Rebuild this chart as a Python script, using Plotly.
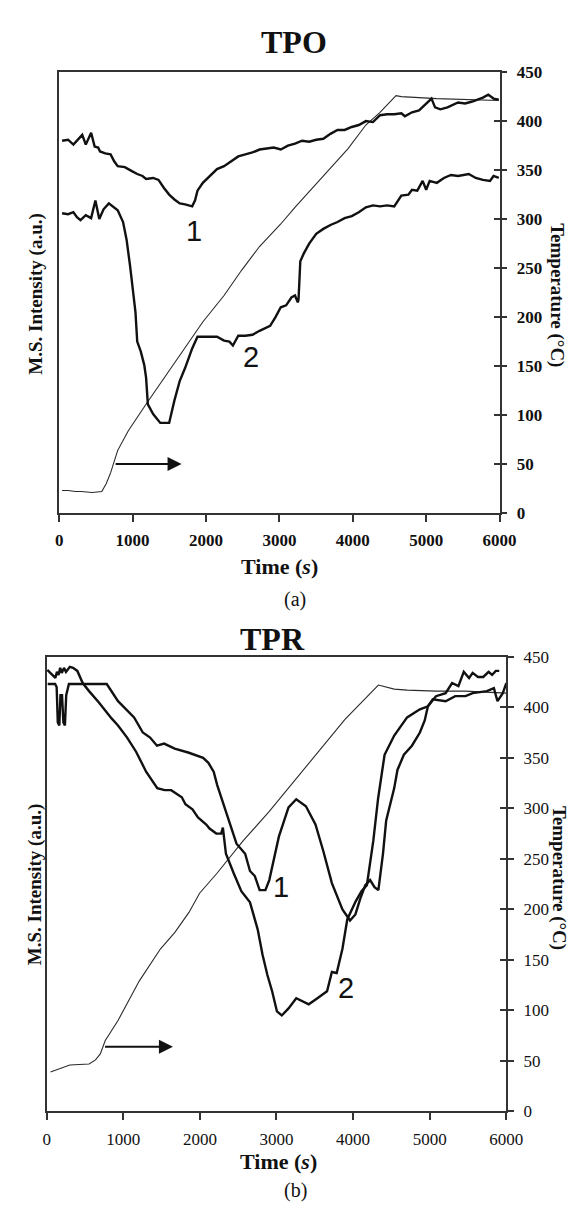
import plotly.graph_objects as go

# ---------------- Panel (a) TPO ----------------
a_temp_t = [39, 121, 220, 300, 450, 580, 640, 700, 797, 942, 1183, 1521, 1956, 2246, 2487, 2729, 3019, 3212, 3454, 3695, 3936, 4178, 4371, 4589, 4661, 5144, 5627, 5989]
a_temp_v = [23, 23, 22, 22, 21, 22, 30, 41, 64, 84, 111, 148, 195, 222, 248, 272, 295, 312, 332, 352, 372, 396, 409, 426, 425, 423, 422, 421]

a_c1_t = [39, 121, 193, 266, 314, 362, 435, 483, 531, 556, 628, 700, 749, 797, 894, 990, 1063, 1135, 1184, 1280, 1353, 1425, 1498, 1570, 1643, 1715, 1763, 1812, 1850, 1884, 1957, 2053, 2150, 2246, 2343, 2440, 2536, 2633, 2730, 2826, 2923, 3019, 3116, 3213, 3309, 3406, 3502, 3599, 3696, 3792, 3889, 3986, 4082, 4179, 4275, 4372, 4469, 4565, 4662, 4710, 4807, 4903, 4976, 5073, 5121, 5193, 5290, 5435, 5531, 5628, 5773, 5846, 5918, 5990]
a_c1_v = [380, 381, 376, 382, 386, 376, 388, 374, 373, 369, 367, 366, 359, 354, 353, 349, 346, 344, 341, 342, 340, 332, 325, 320, 316, 315, 314, 313, 319, 329, 337, 344, 351, 354, 359, 364, 366, 368, 371, 372, 373, 371, 375, 377, 380, 379, 381, 382, 387, 391, 391, 394, 396, 400, 399, 406, 407, 407, 408, 405, 409, 411, 416, 423, 414, 412, 414, 419, 418, 420, 424, 427, 423, 422]

a_c2_t = [39, 121, 193, 242, 290, 362, 435, 493, 546, 604, 676, 749, 797, 870, 918, 966, 1015, 1039, 1063, 1111, 1159, 1184, 1208, 1280, 1377, 1498, 1570, 1643, 1715, 1812, 1884, 2005, 2150, 2246, 2319, 2367, 2440, 2536, 2633, 2730, 2826, 2874, 2947, 3019, 3092, 3164, 3213, 3251, 3261, 3285, 3333, 3406, 3502, 3599, 3696, 3792, 3889, 3986, 4082, 4179, 4275, 4372, 4469, 4565, 4662, 4758, 4807, 4879, 4952, 5000, 5048, 5145, 5242, 5338, 5435, 5580, 5676, 5773, 5870, 5918, 5990]
a_c2_v = [306, 305, 307, 302, 299, 304, 301, 319, 300, 310, 316, 312, 309, 297, 279, 252, 218, 205, 175, 165, 151, 138, 111, 101, 92, 92, 115, 135, 148, 168, 180, 180, 180, 176, 175, 171, 181, 181, 182, 186, 189, 191, 200, 210, 212, 220, 222, 215, 218, 257, 265, 275, 285, 290, 294, 297, 301, 303, 307, 312, 314, 313, 314, 313, 324, 325, 330, 329, 339, 330, 339, 337, 342, 345, 344, 346, 342, 340, 339, 344, 342]

# ---------------- Panel (b) TPR ----------------
b_temp_t = [50, 302, 553, 637, 700, 763, 931, 1208, 1486, 1671, 1857, 1996, 2226, 2566, 2906, 3409, 3894, 4330, 4537, 4705, 5082, 5459, 6000]
b_temp_v = [39, 46, 47, 51, 57, 70, 90, 129, 161, 177, 197, 216, 236, 268, 297, 343, 388, 422, 418, 417, 416, 416, 414]

b_c1_t = [13, 110, 130, 145, 165, 180, 200, 218, 238, 255, 290, 784, 931, 1141, 1255, 1350, 1440, 1533, 1671, 1857, 2042, 2111, 2181, 2226, 2352, 2478, 2591, 2654, 2717, 2780, 2855, 2906, 3031, 3157, 3258, 3384, 3509, 3610, 3723, 3861, 3960, 4030, 4100, 4160, 4222, 4280, 4330, 4390, 4432, 4537, 4579, 4663, 4768, 4872, 4935, 4977, 5040, 5208, 5333, 5468, 5561, 5746, 5838, 5885, 5954, 6000]
b_c1_v = [423, 423, 420, 385, 382, 412, 412, 385, 382, 412, 423, 423, 406, 390, 375, 370, 362, 364, 359, 355, 350, 345, 336, 323, 294, 265, 255, 238, 233, 219, 219, 229, 272, 301, 309, 302, 284, 258, 226, 200, 189, 195, 212, 224, 229, 222, 219, 255, 288, 320, 338, 353, 362, 375, 387, 401, 408, 406, 411, 411, 414, 416, 419, 406, 414, 424]

b_c2_t = [8, 50, 113, 134, 155, 176, 197, 226, 252, 302, 344, 400, 470, 553, 679, 847, 931, 1050, 1167, 1300, 1444, 1540, 1625, 1764, 1811, 1903, 1975, 2083, 2126, 2214, 2278, 2300, 2340, 2440, 2541, 2654, 2755, 2818, 2881, 2943, 3006, 3069, 3157, 3258, 3346, 3421, 3534, 3660, 3723, 3786, 3861, 3924, 4034, 4110, 4180, 4264, 4327, 4411, 4537, 4705, 4872, 4977, 5082, 5208, 5292, 5375, 5445, 5514, 5561, 5630, 5699, 5769, 5815, 5862, 5908]
b_c2_v = [437, 434, 429, 435, 432, 439, 434, 439, 435, 440, 439, 436, 424, 416, 405, 389, 382, 370, 356, 336, 320, 318, 318, 311, 304, 299, 291, 284, 280, 275, 275, 281, 255, 236, 218, 207, 180, 155, 135, 119, 99, 95, 102, 112, 109, 106, 112, 119, 138, 137, 161, 190, 208, 218, 224, 268, 310, 353, 372, 390, 398, 401, 411, 414, 424, 421, 435, 429, 434, 430, 430, 435, 432, 436, 436]

x_ticks = [0, 1000, 2000, 3000, 4000, 5000, 6000]
t_ticks = [0, 50, 100, 150, 200, 250, 300, 350, 400, 450]

W, H = 576, 1205
def px(x): return x / W
def py(y): return 1 - y / H

SERIF = "Liberation Serif, Times New Roman, serif"
SANS = "Liberation Sans, Arial, sans-serif"
INK = "#111111"
AX = "#333333"

fig = go.Figure()
ms_line = dict(color=INK, width=2.4)
t_line = dict(color="#2a2a2a", width=1.1)

fig.add_trace(go.Scatter(x=a_temp_t, y=a_temp_v, mode="lines", line=t_line, xaxis="x", yaxis="y"))
fig.add_trace(go.Scatter(x=a_c1_t, y=a_c1_v, mode="lines", line=ms_line, xaxis="x", yaxis="y"))
fig.add_trace(go.Scatter(x=a_c2_t, y=a_c2_v, mode="lines", line=ms_line, xaxis="x", yaxis="y"))
fig.add_trace(go.Scatter(x=b_temp_t, y=b_temp_v, mode="lines", line=t_line, xaxis="x2", yaxis="y2"))
fig.add_trace(go.Scatter(x=b_c1_t, y=b_c1_v, mode="lines", line=ms_line, xaxis="x2", yaxis="y2"))
fig.add_trace(go.Scatter(x=b_c2_t, y=b_c2_v, mode="lines", line=ms_line, xaxis="x2", yaxis="y2"))

def xax(domain, anchor, bold):
    return dict(domain=domain, anchor=anchor, range=[0, 6000], tickvals=x_ticks,
                showline=True, linecolor=AX, linewidth=1.8, mirror=True,
                ticks="outside", ticklen=7, tickwidth=1.6, tickcolor=AX,
                showgrid=False, zeroline=False, ticklabelstandoff=4,
                tickfont=dict(family=SERIF, size=17, color=INK, weight="bold" if bold else "normal"))

def yax(domain, anchor, bold):
    return dict(domain=domain, anchor=anchor, side="right", range=[0, 450], tickvals=t_ticks,
                showline=True, linecolor=AX, linewidth=1.8, mirror=True,
                ticks="outside", ticklen=6, tickwidth=1.6, tickcolor=AX,
                showgrid=False, zeroline=False, ticklabelstandoff=6,
                tickfont=dict(family=SERIF, size=17, color=INK, weight="bold" if bold else "normal"))

def yin(anchor, over):
    return dict(anchor=anchor, overlaying=over, side="right", range=[0, 450], tickvals=t_ticks,
                showline=False, ticks="inside", ticklen=6, tickwidth=1.6, tickcolor=AX,
                showticklabels=False, showgrid=False, zeroline=False)

a_dom_x = [px(49), px(506)]
a_dom_y = [py(504), py(56)]
b_dom_x = [px(36), px(513)]
b_dom_y = [py(1112), py(650)]

fig.add_trace(go.Scatter(x=[None], y=[None], xaxis="x", yaxis="y3", showlegend=False))
fig.add_trace(go.Scatter(x=[None], y=[None], xaxis="x2", yaxis="y4", showlegend=False))

fig.update_layout(
    width=W, height=H, autosize=False,
    margin=dict(l=0, r=0, t=0, b=0),
    paper_bgcolor="white", plot_bgcolor="white",
    showlegend=False,
    xaxis=xax(a_dom_x, "y", True),
    yaxis=yax(a_dom_y, "x", True),
    xaxis2=xax(b_dom_x, "y2", False),
    yaxis2=yax(b_dom_y, "x2", False),
    yaxis3=yin("x", "y"),
    yaxis4=yin("x2", "y2"),
)

ann = []
def txt(text, x, y, size, bold=True, angle=0, family=SERIF, xref="paper", yref="paper"):
    ann.append(dict(text=text, x=x, y=y, xref=xref, yref=yref, showarrow=False,
                    textangle=angle, xanchor="center", yanchor="middle",
                    font=dict(family=family, size=size, color=INK, weight="bold" if bold else "normal")))

txt("TPO", px(293), py(25), 32)
txt("TPR", px(270), py(632), 32)
txt("M.S. Intensity (a.u.)", px(24), py(281), 19, angle=-90)
txt("M.S. Intensity (a.u.)", px(24), py(881), 19, angle=-90)
txt("Temperature (°C)", px(566), py(283), 19, angle=90)
txt("Temperature (°C)", px(567), py(875), 19, angle=90)
txt("Time (<i>s</i>)", px(278), py(558), 22)
txt("Time (<i>s</i>)", px(277), py(1163), 22)
txt("(a)", px(294), py(592), 20, bold=False)
txt("(b)", px(294), py(1192), 20, bold=False)
txt("1", 1836, 288, 29, bold=False, family=SANS, xref="x", yref="y")
txt("2", 2618, 159, 29, bold=False, family=SANS, xref="x", yref="y")
txt("1", 3057, 222, 29, bold=False, family=SANS, xref="x2", yref="y2")
txt("2", 3903, 122, 29, bold=False, family=SANS, xref="x2", yref="y2")

for (xr, yr, x0, x1, yv) in [("x", "y", 748, 1667, 50), ("x2", "y2", 742, 1648, 64)]:
    ann.append(dict(x=x1, y=yv, ax=x0, ay=yv, xref=xr, yref=yr, axref=xr, ayref=yr,
                    showarrow=True, arrowhead=2, arrowsize=1.4, arrowwidth=2, arrowcolor=INK, text=""))

fig.update_layout(annotations=ann)
fig.write_html("out.html")
